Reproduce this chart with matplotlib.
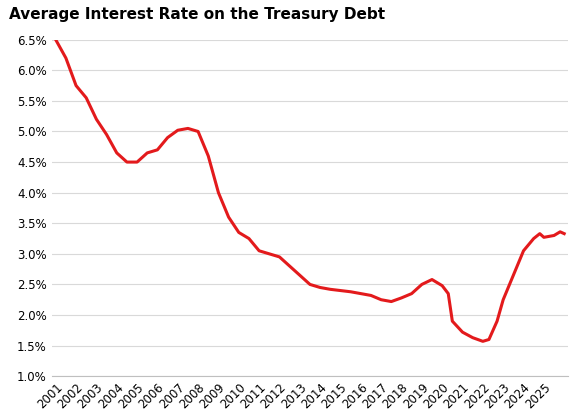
import matplotlib.pyplot as plt

years = [2001.0, 2001.5, 2002.0, 2002.5, 2003.0, 2003.5, 2004.0, 2004.5, 2005.0, 2005.5,
         2006.0, 2006.5, 2007.0, 2007.5, 2008.0, 2008.5, 2009.0, 2009.5, 2010.0, 2010.5,
         2011.0, 2011.5, 2012.0, 2012.5, 2013.0, 2013.5, 2014.0, 2014.5, 2015.0, 2015.5,
         2016.0, 2016.5, 2017.0, 2017.5, 2018.0, 2018.5, 2019.0, 2019.5, 2020.0, 2020.3,
         2020.5, 2021.0, 2021.5, 2022.0, 2022.3, 2022.7, 2023.0, 2023.5, 2024.0, 2024.5,
         2024.8, 2025.0, 2025.5, 2025.8, 2026.0]
rate = [6.5, 6.2, 5.75, 5.55, 5.2, 4.95, 4.65, 4.5, 4.5, 4.65,
        4.7, 4.9, 5.02, 5.05, 5.0, 4.6, 4.0, 3.6, 3.35, 3.25,
        3.05, 3.0, 2.95, 2.8, 2.65, 2.5, 2.45, 2.42, 2.4, 2.38,
        2.35, 2.32, 2.25, 2.22, 2.28, 2.35, 2.5, 2.58, 2.48, 2.35,
        1.9, 1.72, 1.63, 1.57, 1.6, 1.9, 2.25, 2.65, 3.05, 3.25,
        3.33, 3.27, 3.3, 3.36, 3.33]
tick_years = list(range(2001, 2026))

fig, ax = plt.subplots(figsize=(5.74, 4.18), dpi=100)
fig.subplots_adjust(left=0.09, right=0.99, top=0.905, bottom=0.1)
ax.plot(years, rate, color="#e31a1c", lw=2.2)
ax.set_ylim(1.0, 6.5)
ax.set_xlim(2000.8, 2026.2)
ax.set_yticks([1.0 + 0.5 * i for i in range(12)])
ax.set_yticklabels([f"{1.0 + 0.5 * i:.1f}%" for i in range(12)], fontsize=8.5)
ax.set_xticks(tick_years)
ax.set_xticklabels([str(y) for y in tick_years], rotation=45, fontsize=8.5, ha="right", rotation_mode="anchor")
ax.grid(axis="y", color="#d9d9d9", lw=0.8)
for s in ["top", "right", "left"]:
    ax.spines[s].set_visible(False)
ax.spines["bottom"].set_color("#bfbfbf")
ax.tick_params(length=0)
fig.text(0.015, 0.955, "Average Interest Rate on the Treasury Debt", fontsize=11, fontweight="bold")
fig.savefig("out.png")
